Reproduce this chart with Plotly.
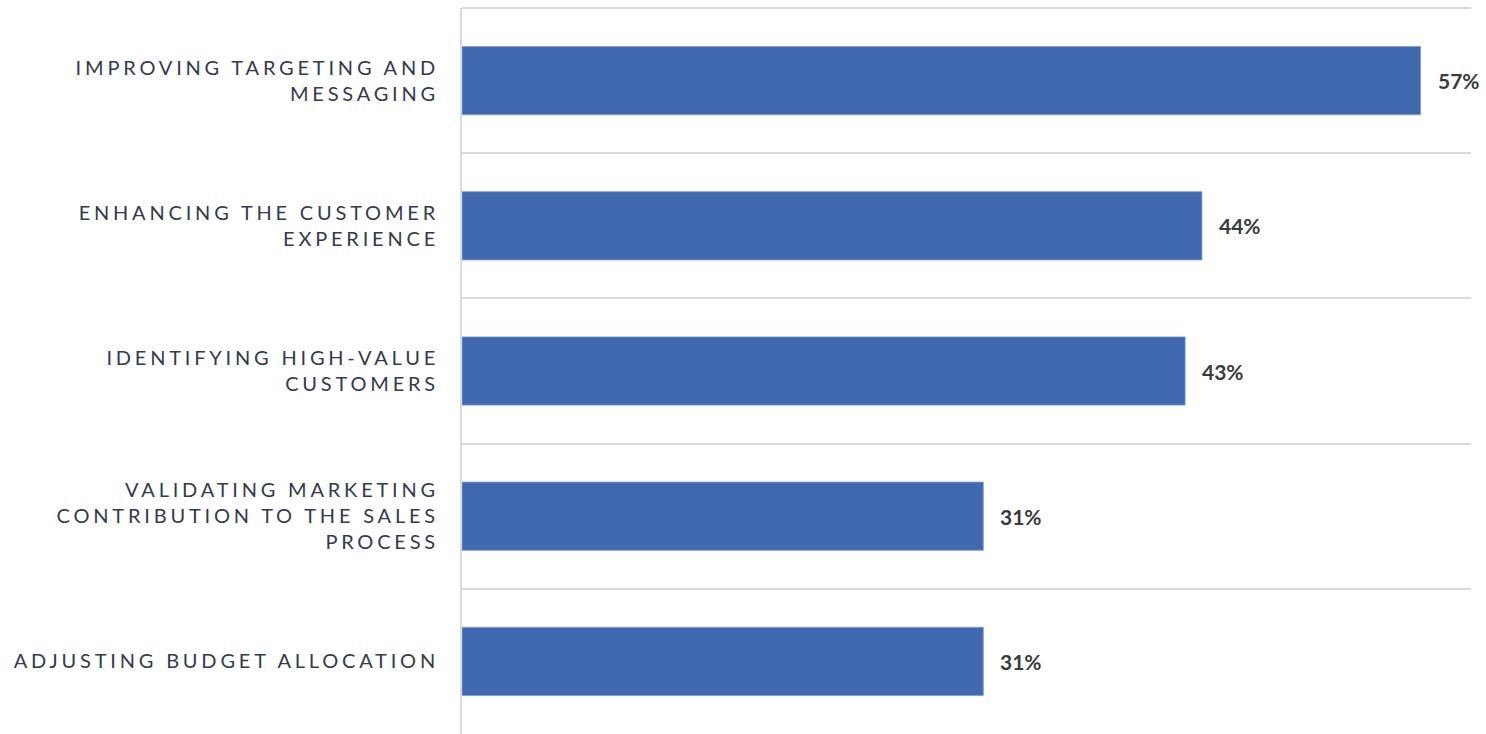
import plotly.graph_objects as go

# Share of respondents citing each use of customer data
categories = [
    "IMPROVING TARGETING AND<br>MESSAGING",
    "ENHANCING THE CUSTOMER<br>EXPERIENCE",
    "IDENTIFYING HIGH-VALUE<br>CUSTOMERS",
    "VALIDATING MARKETING<br>CONTRIBUTION TO THE SALES<br>PROCESS",
    "ADJUSTING BUDGET ALLOCATION",
]
values = [57, 44, 43, 31, 31]

BAR_COLOR = "#4169b0"
GRID_COLOR = "#d9d9d9"
LABEL_COLOR = "#333a4d"
VALUE_COLOR = "#3b3b3b"

fig = go.Figure(
    go.Bar(
        x=values,
        y=categories,
        orientation="h",
        width=0.47,
        marker=dict(color=BAR_COLOR, line=dict(color="#7d9ad2", width=0.8)),
        hoverinfo="skip",
    )
)

# Value labels just past each bar end
for cat, val in zip(categories, values):
    fig.add_annotation(
        x=val, y=cat, text=f"<b>{val}%</b>", showarrow=False,
        xanchor="left", xshift=15,
        font=dict(family="Lato", size=21, color=VALUE_COLOR),
    )

# Top border line across the plot area
fig.add_shape(
    type="line", xref="paper", yref="paper", x0=0, x1=1, y0=1, y1=1,
    line=dict(color=GRID_COLOR, width=2), layer="below",
)

fig.update_layout(
    width=1486, height=734,
    margin=dict(l=462, r=15, t=8, b=0),
    paper_bgcolor="white", plot_bgcolor="white",
    showlegend=False,
    xaxis=dict(range=[0, 60], showgrid=False, showticklabels=False,
               zeroline=False, showline=False, fixedrange=True),
    yaxis=dict(
        autorange="reversed", tickson="boundaries", ticks="",
        showgrid=True, gridcolor=GRID_COLOR, gridwidth=2,
        showline=True, linecolor=GRID_COLOR, linewidth=2,
        ticklabelstandoff=17,
        tickfont=dict(family="Lato", size=20, color=LABEL_COLOR),
    ),
)

# Letter-spaced category labels
spacing_js = """
var s = document.createElement('style');
s.textContent = '.ytick text { letter-spacing: 3.8px; }';
document.head.appendChild(s);
"""

fig.write_html("out.html", post_script=spacing_js)
